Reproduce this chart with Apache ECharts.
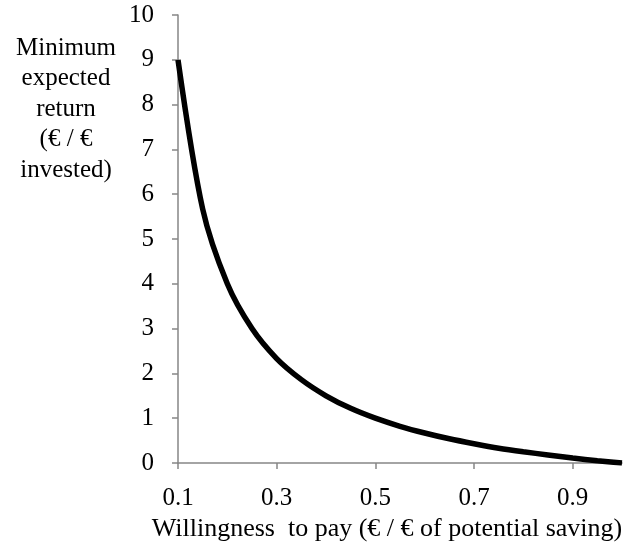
<!DOCTYPE html>
<html>
<head>
<meta charset="utf-8">
<script src="https://cdn.jsdelivr.net/npm/echarts@6/dist/echarts.min.js"></script>
<style>
  html, body { margin: 0; padding: 0; background: #fff; }
  #chart { width: 628px; height: 548px; }
</style>
</head>
<body>
<div id="chart"></div>
<script>
// willingness to pay (x) and minimum expected return (y)
let willingness = [0.1, 0.15, 0.2, 0.25, 0.3, 0.35, 0.4, 0.45, 0.5, 0.55, 0.6, 0.65, 0.7, 0.75, 0.8, 0.85, 0.9, 0.95, 1.0];
let minReturn = [9.0, 5.67, 4.0, 3.0, 2.33, 1.86, 1.5, 1.22, 1.0, 0.82, 0.67, 0.54, 0.43, 0.33, 0.25, 0.18, 0.11, 0.05, 0.0];
let xTicks = [0.1, 0.3, 0.5, 0.7, 0.9];

let font = "Liberation Serif, Times New Roman, DejaVu Serif, serif";
let fontSize = 25;
let axisGrey = "#868686";

let option = {
  animation: false,
  grid: {
    left: 178,
    right: 6,
    top: 15,
    bottom: 85
  },
  graphic: [
    {
      type: "text",
      x: 66,
      y: 33,
      style: {
        text: "Minimum\nexpected\nreturn\n(€ / €\ninvested)",
        fontFamily: font,
        fontSize: fontSize,
        fill: "#000",
        align: "center",
        verticalAlign: "top",
        lineHeight: 30.5
      }
    }
  ],
  xAxis: {
    type: "value",
    min: 0.1,
    max: 1.0,
    name: "Willingness  to pay (€ / € of potential saving)",
    nameLocation: "middle",
    nameGap: 53,
    nameTextStyle: {
      fontFamily: font,
      fontSize: 26,
      color: "#000",
      padding: [0, 26, 0, 0]
    },
    axisLine: { show: true, onZero: false, lineStyle: { color: axisGrey, width: 1.5 } },
    axisTick: { show: true, length: 6, customValues: xTicks, lineStyle: { color: axisGrey, width: 1.5 } },
    axisLabel: {
      customValues: xTicks,
      margin: 23,
      fontFamily: font,
      fontSize: fontSize,
      color: "#000",
      formatter: v => v.toFixed(1)
    },
    splitLine: { show: false }
  },
  yAxis: {
    type: "value",
    min: 0,
    max: 10,
    interval: 1,
    axisLine: { show: true, lineStyle: { color: axisGrey, width: 1.5 } },
    axisTick: { show: true, length: 6, lineStyle: { color: axisGrey, width: 1.5 } },
    axisLabel: {
      margin: 24,
      fontFamily: font,
      fontSize: fontSize,
      color: "#000"
    },
    splitLine: { show: false }
  },
  series: [
    {
      type: "line",
      data: willingness.map((x, i) => [x, minReturn[i]]),
      smooth: 0.3,
      showSymbol: false,
      lineStyle: { color: "#000", width: 5.5 }
    }
  ]
};

let myChart = echarts.init(document.getElementById("chart"));
myChart.setOption(option);
</script>
</body>
</html>
